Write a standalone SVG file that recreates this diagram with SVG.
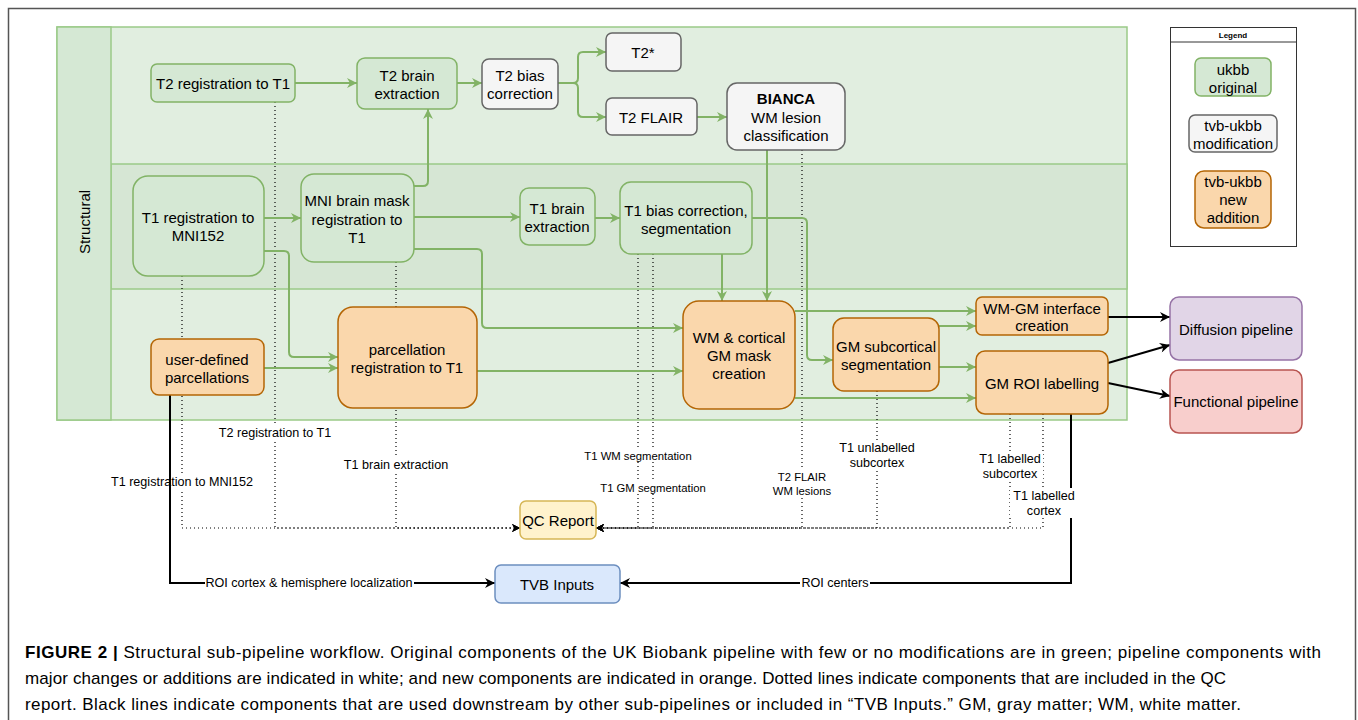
<svg xmlns="http://www.w3.org/2000/svg" width="1358" height="720" viewBox="0 0 1358 720">
<style>
text{font-family:"Liberation Sans",Arial,Helvetica,sans-serif;fill:#000;}
.n{font-size:15px;text-anchor:middle;dominant-baseline:central;}
.l{font-size:12.6px;text-anchor:middle;dominant-baseline:central;}
.s{font-size:11.3px;text-anchor:middle;dominant-baseline:central;}
.g{fill:#d5e8d4;stroke:#82b366;stroke-width:1.5;}
.w{fill:#f5f5f5;stroke:#666666;stroke-width:1.5;}
.o{fill:#fad7ac;stroke:#b46504;stroke-width:1.5;}
.ge{fill:none;stroke:#82b366;stroke-width:2;marker-end:url(#ag);}
.be{fill:none;stroke:#000;stroke-width:2;marker-end:url(#ab);}
.de{fill:none;stroke:#000;stroke-width:1.2;stroke-dasharray:1 3;}
.lane{stroke:#9bca88;stroke-width:1.5;}
.bg{fill:#fff;}
</style>
<defs>
<marker id="ag" viewBox="0 0 10 10" refX="10" refY="5" markerWidth="11" markerHeight="10" markerUnits="userSpaceOnUse" orient="auto"><path d="M0,0 L10,5 L0,10 L3,5 z" fill="#82b366"/></marker>
<marker id="ab" viewBox="0 0 10 10" refX="10" refY="5" markerWidth="11" markerHeight="10" markerUnits="userSpaceOnUse" orient="auto"><path d="M0,0 L10,5 L0,10 L3,5 z" fill="#000"/></marker>
<marker id="ad" viewBox="0 0 10 10" refX="10" refY="5" markerWidth="8" markerHeight="8" markerUnits="userSpaceOnUse" orient="auto"><path d="M0,0 L10,5 L0,10 L3,5 z" fill="#000"/></marker>
</defs>
<rect width="1358" height="720" fill="#fff"/>
<rect x="8.5" y="8.5" width="1347" height="780" fill="none" stroke="#555" stroke-width="1.5"/>

<g id="swimlane">
<rect class="lane" x="57" y="27" width="1070" height="393" fill="#e1eee0"/>
<rect class="lane" x="111" y="164" width="1016" height="125" fill="#d6e6d4"/>
<rect class="lane" x="57" y="27" width="54" height="393" fill="#d5e8d4"/>
<text class="n" transform="translate(84,222) rotate(-90)">Structural</text>
</g>

<g id="connectors">
<path class="de" d="M182,276 V528 H520" marker-end="url(#ad)"/>
<path class="de" d="M275,102 V528 H520" marker-end="url(#ad)"/>
<path class="de" d="M396,262 V528 H520" marker-end="url(#ad)"/>
<path class="de" d="M638,254 V528 H596" marker-end="url(#ad)"/>
<path class="de" d="M653,254 V528 H596" marker-end="url(#ad)"/>
<path class="de" d="M802,150 V528 H596" marker-end="url(#ad)"/>
<path class="de" d="M877,391 V528 H596" marker-end="url(#ad)"/>
<path class="de" d="M1010,414 V528 H596" marker-end="url(#ad)"/>
<path class="de" d="M1043,414 V528 H596" marker-end="url(#ad)"/>
<rect class="bg" x="216" y="426" width="118" height="14"/><text class="l" x="275" y="433">T2 registration to T1</text>
<rect class="bg" x="110" y="475" width="145" height="14"/><text class="l" x="182" y="482">T1 registration to MNI152</text>
<rect class="bg" x="341" y="458" width="110" height="14"/><text class="l" x="396" y="465">T1 brain extraction</text>
<rect class="bg" x="583" y="449" width="110" height="13"/><text class="s" x="638" y="456">T1 WM segmentation</text>
<rect class="bg" x="600" y="481" width="107" height="13"/><text class="s" x="653" y="488">T1 GM segmentation</text>
<rect class="bg" x="775" y="470" width="54" height="28"/><text class="s" x="802" y="477">T2 FLAIR</text><text class="s" x="802" y="491">WM lesions</text>
<rect class="bg" x="836" y="441" width="81" height="30"/><text class="l" x="877" y="448">T1 unlabelled</text><text class="l" x="877" y="463">subcortex</text>
<rect class="bg" x="976" y="452" width="67" height="30"/><text class="l" x="1010" y="459">T1 labelled</text><text class="l" x="1010" y="474">subcortex</text>
<path class="ge" d="M295,83 H357"/>
<path class="ge" d="M457,83 H482"/>
<path class="ge" d="M558,83 H573 Q578,83 578,78 V57 Q578,52 583,52 H606"/>
<path class="ge" d="M558,83 H573 Q578,83 578,88 V112 Q578,117 583,117 H606"/>
<path class="ge" d="M697,117 H727"/>
<path class="ge" d="M264,218 H301"/>
<path class="ge" d="M414,186 H423 Q428,186 428,181 V109"/>
<path class="ge" d="M414,217 H520"/>
<path class="ge" d="M595,218 H620"/>
<path class="ge" d="M264,251 H284 Q289,251 289,256 V352 Q289,357 294,357 H338"/>
<path class="ge" d="M264,368 H338"/>
<path class="ge" d="M414,249 H477 Q482,249 482,254 V323 Q482,328 487,328 H683"/>
<path class="ge" d="M477,371 H683"/>
<path class="ge" d="M722,254 V301"/>
<path class="ge" d="M767,150 V301"/>
<path class="ge" d="M752,218 H802 Q807,218 807,223 V355 Q807,360 812,360 H833"/>
<path class="ge" d="M795,311 H976"/>
<path class="ge" d="M939,326 H976"/>
<path class="ge" d="M939,367 H976"/>
<path class="ge" d="M795,398 H976"/>
<path class="be" d="M1108,317 H1170"/>
<path class="be" d="M1108,363 L1170,345"/>
<path class="be" d="M1108,383 L1170,396"/>
<path class="be" d="M170,395 V583 H495"/>
<path class="be" d="M1071,414 V583 H620"/>
<rect class="bg" x="205" y="576" width="209" height="14"/><text class="l" x="309" y="583">ROI cortex &amp; hemisphere localization</text>
<rect class="bg" x="800" y="576" width="70" height="14"/><text class="l" x="835" y="583">ROI centers</text>
<rect class="bg" x="1010" y="488" width="68" height="30"/><text class="l" x="1044" y="496">T1 labelled</text><text class="l" x="1044" y="511">cortex</text>
</g>

<g id="t2reg"><rect class="g" x="151" y="64" width="144" height="38" rx="6"/><text class="n" x="223" y="83">T2 registration to T1</text></g>
<g id="t2brain"><rect class="g" x="357" y="58" width="100" height="51" rx="8"/><text class="n" x="407" y="75">T2 brain</text><text class="n" x="407" y="93">extraction</text></g>
<g id="t2bias"><rect class="w" x="482" y="59" width="76" height="50" rx="7"/><text class="n" x="520" y="75">T2 bias</text><text class="n" x="520" y="93">correction</text></g>
<g id="t2star"><rect class="w" x="606" y="33" width="75" height="38" rx="6"/><text class="n" x="643" y="52">T2*</text></g>
<g id="t2flair"><rect class="w" x="606" y="98" width="91" height="37" rx="6"/><text class="n" x="651" y="117">T2 FLAIR</text></g>
<g id="bianca"><rect class="w" x="727" y="83" width="118" height="67" rx="10"/><text class="n" x="786" y="98" font-weight="bold">BIANCA</text><text class="n" x="786" y="117">WM lesion</text><text class="n" x="786" y="135">classification</text></g>
<g id="t1reg"><rect class="g" x="133" y="176" width="131" height="100" rx="15"/><text class="n" x="198" y="217">T1 registration to</text><text class="n" x="198" y="235">MNI152</text></g>
<g id="mnimask"><rect class="g" x="301" y="174" width="113" height="88" rx="13"/><text class="n" x="357" y="200">MNI brain mask</text><text class="n" x="357" y="219">registration to</text><text class="n" x="357" y="237">T1</text></g>
<g id="t1brain"><rect class="g" x="520" y="188" width="75" height="57" rx="9"/><text class="n" x="557" y="208">T1 brain</text><text class="n" x="557" y="226">extraction</text></g>
<g id="t1bias"><rect class="g" x="620" y="182" width="132" height="72" rx="11"/><text class="n" x="686" y="210">T1 bias correction,</text><text class="n" x="686" y="228">segmentation</text></g>
<g id="userparc"><rect class="o" x="151" y="339" width="113" height="56" rx="8"/><text class="n" x="207" y="359">user-defined</text><text class="n" x="207" y="377">parcellations</text></g>
<g id="parcreg"><rect class="o" x="338" y="307" width="139" height="101" rx="15"/><text class="n" x="407" y="349">parcellation</text><text class="n" x="407" y="367">registration to T1</text></g>
<g id="wmgmmask"><rect class="o" x="683" y="301" width="112" height="108" rx="16"/><text class="n" x="739" y="337">WM &amp; cortical</text><text class="n" x="739" y="355">GM mask</text><text class="n" x="739" y="373">creation</text></g>
<g id="gmsub"><rect class="o" x="833" y="318" width="106" height="73" rx="11"/><text class="n" x="886" y="346">GM subcortical</text><text class="n" x="886" y="364">segmentation</text></g>
<g id="wmgmif"><rect class="o" x="976" y="297" width="132" height="38" rx="6"/><text class="n" x="1042" y="308">WM-GM interface</text><text class="n" x="1042" y="325">creation</text></g>
<g id="gmroi"><rect class="o" x="976" y="351" width="132" height="63" rx="9"/><text class="n" x="1042" y="383">GM ROI labelling</text></g>
<g id="diffusion"><rect x="1170" y="297" width="132" height="63" rx="9" fill="#e1d5e7" stroke="#9673a6" stroke-width="1.5"/><text class="n" x="1236" y="329">Diffusion pipeline</text></g>
<g id="functional"><rect x="1170" y="370" width="132" height="63" rx="9" fill="#f8cecc" stroke="#b85450" stroke-width="1.5"/><text class="n" x="1236" y="401">Functional pipeline</text></g>
<g id="qc"><rect x="520" y="501" width="76" height="38" rx="6" fill="#fff2cc" stroke="#d6b656" stroke-width="1.5"/><text class="n" x="558" y="520">QC Report</text></g>
<g id="tvb"><rect x="495" y="565" width="125" height="38" rx="6" fill="#dae8fc" stroke="#6c8ebf" stroke-width="1.5"/><text class="n" x="557" y="584">TVB Inputs</text></g>

<g id="legend">
<rect x="1170.5" y="27.5" width="126" height="219" fill="#fff" stroke="#333" stroke-width="1"/>
<line x1="1170.5" y1="42" x2="1296.5" y2="42" stroke="#333" stroke-width="1"/>
<text x="1233" y="35" font-size="8" font-weight="bold" text-anchor="middle" dominant-baseline="central">Legend</text>
<rect class="g" x="1195" y="58" width="76" height="38" rx="6"/><text class="n" x="1233" y="69">ukbb</text><text class="n" x="1233" y="87">original</text>
<rect class="w" x="1189" y="115" width="88" height="37" rx="6"/><text class="n" x="1233" y="125">tvb-ukbb</text><text class="n" x="1233" y="143">modification</text>
<rect class="o" x="1195" y="171" width="76" height="57" rx="9"/><text class="n" x="1233" y="181">tvb-ukbb</text><text class="n" x="1233" y="199">new</text><text class="n" x="1233" y="217">addition</text>
</g>

<g id="caption" font-size="17">
<text x="25" y="658" textLength="1296" lengthAdjust="spacing"><tspan font-weight="bold">FIGURE 2 |</tspan> Structural sub-pipeline workflow. Original components of the UK Biobank pipeline with few or no modifications are in green; pipeline components with</text>
<text x="25" y="684" textLength="1201" lengthAdjust="spacing">major changes or additions are indicated in white; and new components are indicated in orange. Dotted lines indicate components that are included in the QC</text>
<text x="25" y="710" textLength="1216" lengthAdjust="spacing">report. Black lines indicate components that are used downstream by other sub-pipelines or included in “TVB Inputs.” GM, gray matter; WM, white matter.</text>
</g>
</svg>
